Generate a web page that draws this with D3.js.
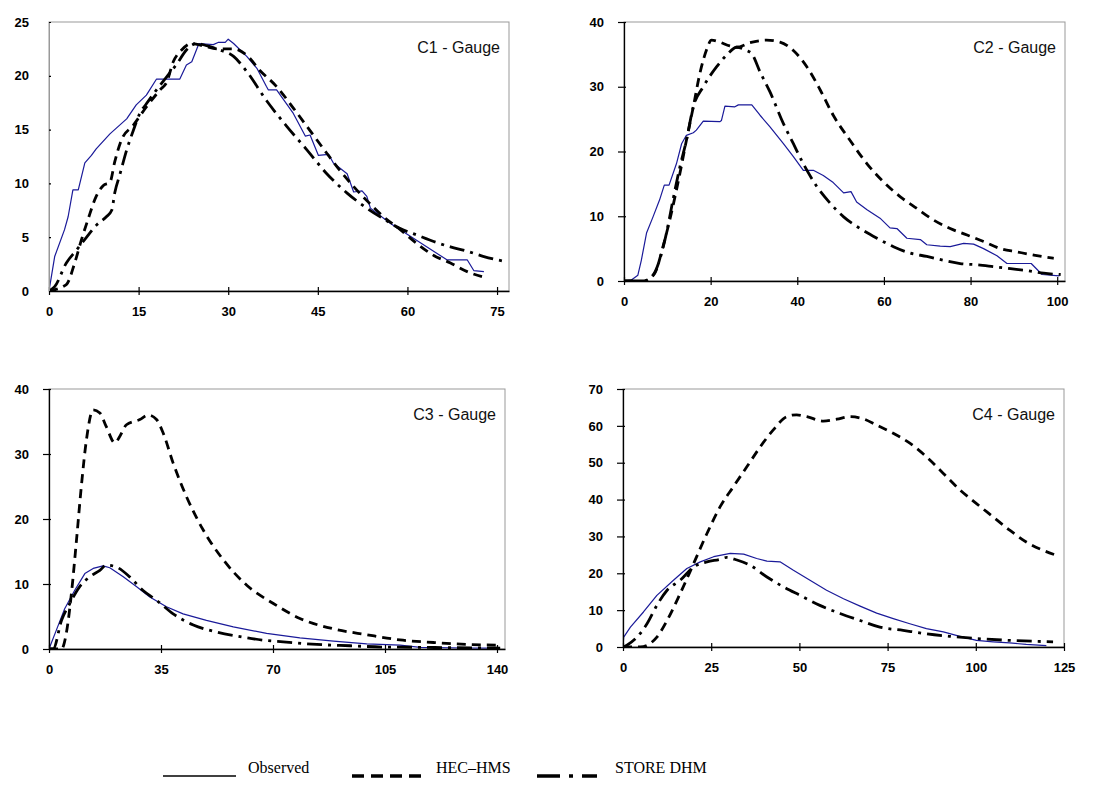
<!DOCTYPE html>
<html>
<head>
<meta charset="utf-8">
<script src="https://cdn.jsdelivr.net/npm/d3@7"></script>
<style>
  body { margin: 0; background: #fff; }
  svg { display: block; }
</style>
</head>
<body>
<svg id="chart" width="1102" height="793"></svg>
<script>
// series values: [time, flow]
const c1Observed = [[0,0],[0.95,3.2],[2.6,5.7],[3.2,6.9],[4.0,9.4],[4.9,9.4],[6.0,11.9],[7.1,12.6],[7.9,13.2],[10.2,14.6],[13.0,16.0],[14.6,17.3],[16.3,18.2],[18.0,19.7],[19.7,19.7],[21.9,19.7],[23.0,21.0],[23.9,21.3],[25.1,23.0],[27.5,22.9],[28.3,23.1],[29.5,23.1],[30.0,23.4],[30.9,23.0],[33.1,21.8],[34.8,20.7],[36.4,19.0],[36.7,18.7],[38.1,18.7],[40.9,16.5],[42.9,14.4],[43.7,14.5],[45.1,12.6],[46.8,12.7],[47.6,11.9],[49.9,10.9],[51.0,9.2],[52.4,9.3],[53.2,8.8],[53.8,7.7],[57.1,6.3],[61.0,4.9],[66.6,2.9],[70.0,2.9],[71.1,1.9],[72.8,1.8]];
const c1Hec = [[0,0],[2.9,0.6],[4.3,2.6],[5.4,4.7],[6.5,6.6],[7.9,8.8],[9.1,9.8],[10.2,10.1],[11.0,12.0],[12.1,14.0],[14.1,15.4],[16.3,17.1],[18.6,18.7],[19.7,19.4],[20.8,21.3],[22.2,22.4],[23.9,23.0],[25.8,22.8],[28.3,22.5],[30.9,22.5],[33.1,21.9],[35.3,20.5],[38.1,19.0],[40.9,17.0],[43.7,14.9],[46.5,12.8],[48.7,11.2],[51.0,9.7],[53.2,8.4],[56.0,6.9],[58.8,5.7],[61.6,4.4],[64.4,3.3],[67.2,2.6],[70.0,1.8],[73.3,1.2]];
const c1Store = [[0,0],[0.95,0.4],[2.9,2.6],[4.6,3.8],[6.3,5.0],[7.9,6.1],[9.6,6.9],[10.5,7.5],[11.0,9.1],[11.9,10.9],[13.0,13.1],[14.1,14.9],[15.2,16.5],[16.3,17.4],[18.0,18.7],[19.7,19.9],[21.4,21.1],[23.0,22.4],[24.7,23.0],[26.4,22.8],[28.6,22.4],[30.9,21.8],[33.1,20.4],[36.4,17.7],[39.8,15.3],[43.2,13.1],[46.5,10.9],[49.9,9.1],[53.2,7.7],[56.0,6.7],[58.8,5.8],[61.6,5.2],[64.4,4.6],[67.2,4.1],[70.0,3.7],[72.8,3.2],[76.7,2.7]];

const c2Observed = [[0,0],[1.7,0.15],[3.2,0.9],[4.0,3.2],[5.2,7.4],[6.7,9.9],[8.2,12.5],[9.3,14.8],[10.4,14.8],[12.1,18.1],[13.3,21.2],[14.4,22.5],[16.0,22.9],[16.7,23.3],[18.3,24.7],[22.1,24.6],[22.5,24.8],[23.3,27.0],[25.6,26.9],[26.4,27.2],[29.5,27.2],[31.4,25.6],[33.7,23.8],[36.8,21.2],[39.1,19.2],[41.4,17.1],[43.7,17.1],[46.0,16.3],[48.3,15.2],[50.7,13.6],[52.4,13.8],[53.7,12.2],[56.1,11.0],[59.1,9.7],[61.4,8.2],[63.0,8.1],[65.3,6.6],[68.4,6.4],[69.9,5.6],[73.0,5.4],[75.3,5.3],[78.4,5.8],[80.7,5.7],[83.0,5.0],[86.1,3.9],[88.4,2.7],[94.0,2.7],[96.5,1.0],[100.5,0.8]];
const c2Hec = [[0,0],[4.8,0],[7.1,1.2],[9.0,5.3],[10.9,10.4],[12.9,16.6],[14.4,21.7],[16.0,26.9],[17.5,32.0],[19.0,35.6],[20.2,37.2],[22.1,36.9],[24.4,36.3],[26.0,36.1],[29.1,36.8],[32.9,37.2],[36.0,36.9],[39.1,35.6],[42.2,33.1],[45.3,29.5],[48.3,25.6],[52.2,21.7],[56.1,18.1],[59.9,15.3],[63.8,13.0],[67.6,11.2],[71.5,9.4],[75.3,8.1],[79.2,7.1],[83.0,6.1],[86.9,5.0],[90.7,4.5],[94.6,4.0],[99.2,3.5]];
const c2Store = [[0,0],[4.4,0],[6.7,0.9],[8.2,3.2],[9.8,7.4],[11.3,12.5],[12.9,17.6],[14.4,21.7],[16.0,26.9],[18.3,30.0],[21.4,33.1],[23.7,34.9],[26.0,36.1],[28.3,35.6],[29.5,35.1],[31.4,32.3],[33.7,29.2],[36.8,24.3],[39.1,21.2],[41.4,18.1],[44.5,14.6],[47.6,12.0],[50.7,9.9],[54.5,8.1],[58.4,6.6],[62.2,5.3],[66.1,4.3],[69.9,3.8],[73.8,3.2],[77.6,2.7],[81.5,2.5],[85.4,2.2],[89.2,1.9],[93.1,1.6],[96.9,1.2],[100.8,1.0]];

const c3Observed = [[0,0],[2.3,2.9],[4.9,6.2],[8.0,9.0],[11.2,11.6],[13.8,12.4],[16.9,12.8],[19.0,12.5],[23.2,11.1],[27.3,9.6],[31.5,8.0],[36.7,6.5],[41.9,5.4],[49.2,4.4],[57.6,3.4],[68.0,2.4],[78.4,1.7],[88.9,1.2],[99.3,0.8],[109.7,0.6],[116,0.25],[130.6,0.15],[140,0.15]];
const c3Hec = [[0,0],[3.9,0],[5.4,2.4],[7.0,8.5],[8.6,16.8],[10.1,25.0],[11.7,32.2],[13.8,36.8],[15.9,36.3],[17.9,34.2],[20.6,31.7],[22.1,32.7],[24.2,34.5],[28.4,35.3],[31.0,36.0],[33.6,35.3],[35.7,33.2],[38.8,28.6],[43.0,23.4],[48.2,18.3],[54.5,13.7],[61.8,9.8],[70.1,7.0],[78.4,4.7],[88.9,3.1],[99.3,2.2],[109.7,1.4],[120.2,1.0],[130.6,0.7],[141,0.6]];
const c3Store = [[0,0],[1.3,0],[3.9,4.4],[6.5,7.0],[9.6,9.6],[12.7,11.1],[15.9,12.1],[17.9,12.9],[21.1,12.6],[25.2,11.1],[29.4,9.0],[33.6,7.5],[38.8,5.4],[45.1,3.7],[52.4,2.6],[59.7,1.9],[68.0,1.3],[73.2,1.1],[83.7,0.7],[94.1,0.5],[104.5,0.3],[115,0.26],[125.4,0.2],[141,0.15]];

const c4Observed = [[0,0],[0.2,2.7],[2.1,5.4],[5.8,9.5],[9.6,14.0],[14.3,18.1],[18.1,21.3],[21.9,23.1],[25.7,24.5],[30.4,25.4],[34.2,25.2],[37.9,24.0],[40.8,23.3],[44.5,23.1],[48.3,20.8],[53.0,18.1],[57.7,15.4],[62.5,13.1],[67.2,11.1],[71.9,9.2],[76.6,7.7],[81.3,6.3],[86.0,5.0],[90.8,4.1],[95.5,2.9],[100.2,1.8],[104.9,1.4],[109.6,1.1],[114.3,0.7],[120,0.4]];
const c4Hec = [[0,0],[4.9,0],[9.6,2.7],[12.5,7.2],[16.2,14.5],[20.0,22.6],[23.8,30.8],[27.5,38.0],[31.3,43.5],[35.1,48.9],[38.9,54.3],[42.6,58.9],[46.4,62.5],[49.2,63.0],[52.1,62.5],[56.8,61.3],[60.6,61.8],[64.3,62.5],[68.1,61.9],[71.9,60.2],[76.6,58.0],[81.3,55.3],[86.0,51.6],[90.8,47.1],[95.5,42.6],[100.2,38.9],[104.9,35.3],[109.6,31.7],[114.3,28.5],[122.8,24.9]];
const c4Store = [[0,0],[1.1,0.5],[4.0,2.7],[6.8,6.3],[9.6,11.3],[12.5,15.4],[16.2,18.1],[20.0,21.7],[23.8,23.1],[27.5,23.8],[29.4,24.3],[32.3,23.6],[36.0,22.2],[40.8,19.0],[45.5,16.3],[50.2,14.0],[55.8,11.3],[61.5,9.1],[67.2,7.2],[72.8,5.4],[79.4,4.5],[86.0,3.6],[92.6,2.9],[100.2,2.3],[109.6,1.8],[121.9,1.4]];

// tick labels per panel
const c1XTicks = [0, 15, 30, 45, 60, 75];
const c1YTicks = [0, 5, 10, 15, 20, 25];
const c2XTicks = [0, 20, 40, 60, 80, 100];
const c2YTicks = [0, 10, 20, 30, 40];
const c3XTicks = [0, 35, 70, 105, 140];
const c3YTicks = [0, 10, 20, 30, 40];
const c4XTicks = [0, 25, 50, 75, 100, 125];
const c4YTicks = [0, 10, 20, 30, 40, 50, 60, 70];

const legendNames = ["Observed", "HEC\u2013HMS", "STORE DHM"];

const styles = {
  obs:   { stroke: "#1a1a99", width: 1.2, dash: null },
  hec:   { stroke: "#000", width: 2.8, dash: "9,6" },
  store: { stroke: "#000", width: 2.8, dash: "15,6,3,6" }
};

const panels = [
  { name: "C1 - Gauge", x0: 49,  x1: 509,  y0: 22,  y1: 291, xMax: 77,    yMax: 25, xt: c1XTicks, yt: c1YTicks, yAxisGray: true,
    series: [[c1Observed, "obs"], [c1Hec, "hec"], [c1Store, "store"]] },
  { name: "C2 - Gauge", x0: 624, x1: 1065, y0: 22,  y1: 281, xMax: 101.8, yMax: 40, xt: c2XTicks, yt: c2YTicks,
    series: [[c2Observed, "obs"], [c2Hec, "hec"], [c2Store, "store"]] },
  { name: "C3 - Gauge", x0: 49,  x1: 505,  y0: 389, y1: 649, xMax: 142.5, yMax: 40, xt: c3XTicks, yt: c3YTicks,
    series: [[c3Observed, "obs"], [c3Hec, "hec"], [c3Store, "store"]] },
  { name: "C4 - Gauge", x0: 623, x1: 1064, y0: 389, y1: 647, xMax: 125,   yMax: 70, xt: c4XTicks, yt: c4YTicks,
    series: [[c4Observed, "obs"], [c4Hec, "hec"], [c4Store, "store"]] }
];

const svg = d3.select("#chart");

panels.forEach((p, i) => {
  const x = d3.scaleLinear().domain([0, p.xMax]).range([p.x0, p.x1]);
  const y = d3.scaleLinear().domain([0, p.yMax]).range([p.y1, p.y0]);
  const g = svg.append("g");

  // gray frame (top and right)
  g.append("rect")
    .attr("x", p.x0).attr("y", p.y0)
    .attr("width", p.x1 - p.x0).attr("height", p.y1 - p.y0)
    .attr("fill", "none").attr("stroke", "#999").attr("stroke-width", 1);

  g.append("clipPath").attr("id", "clip" + i)
    .append("rect")
    .attr("x", p.x0).attr("y", p.y0 - 4)
    .attr("width", p.x1 - p.x0 + 2).attr("height", p.y1 - p.y0 + 4);

  const line = d3.line().x(d => x(d[0])).y(d => y(d[1]));

  p.series.forEach(([data, key]) => {
    const s = styles[key];
    g.append("path")
      .datum(data)
      .attr("clip-path", `url(#clip${i})`)
      .attr("fill", "none")
      .attr("stroke", s.stroke)
      .attr("stroke-width", s.width)
      .attr("stroke-dasharray", s.dash)
      .attr("stroke-linejoin", "round")
      .attr("d", line.curve(key === "obs" ? d3.curveLinear : d3.curveMonotoneX));
  });

  // x axis
  const xa = g.append("g")
    .attr("transform", `translate(0,${p.y1})`)
    .call(d3.axisBottom(x).tickValues(p.xt).tickSize(4).tickSizeOuter(0).tickPadding(12));
  xa.select(".domain").attr("stroke", "#000").attr("stroke-width", 1.3);
  xa.selectAll(".tick line").attr("y1", -4).attr("stroke-width", 1.2);

  // y axis
  const ya = g.append("g")
    .attr("transform", `translate(${p.x0},0)`)
    .call(d3.axisLeft(y).tickValues(p.yt).tickSize(p.yAxisGray ? 0 : 6).tickSizeOuter(0).tickPadding(p.yAxisGray ? 20 : 14));
  ya.select(".domain").attr("stroke", p.yAxisGray ? "#999" : "#000").attr("stroke-width", p.yAxisGray ? 1 : 1.3);
  ya.selectAll(".tick line").attr("x1", 2).attr("stroke-width", 1.2);

  g.selectAll(".tick text")
    .attr("font-family", "Liberation Sans, Arial, sans-serif")
    .attr("font-weight", "bold")
    .attr("font-size", 13)
    .attr("fill", "#000");

  g.append("text")
    .attr("x", p.x1 - 9).attr("y", p.y0 + 31)
    .attr("text-anchor", "end")
    .attr("font-family", "Liberation Sans, Arial, sans-serif")
    .attr("font-size", 16)
    .attr("fill", "#111")
    .text(p.name);
});

// legend
const legendKeys = ["obs", "hec", "store"];
const legendLineX = [[163, 236], [352, 422], [537, 597]];
const legendTextX = [248, 436, 615];
legendKeys.forEach((k, i) => {
  svg.append("line")
    .attr("x1", legendLineX[i][0]).attr("x2", legendLineX[i][1])
    .attr("y1", 776).attr("y2", 776)
    .attr("stroke", "#000")
    .attr("stroke-width", k === "obs" ? 1.5 : 3.5)
    .attr("stroke-dasharray", k === "hec" ? "12,7" : (k === "store" ? "23,9,4,9" : null));
  svg.append("text")
    .attr("x", legendTextX[i]).attr("y", 773)
    .attr("font-family", "Liberation Serif, Times New Roman, serif")
    .attr("font-size", 16)
    .attr("fill", "#000")
    .text(legendNames[i]);
});
</script>
</body>
</html>
